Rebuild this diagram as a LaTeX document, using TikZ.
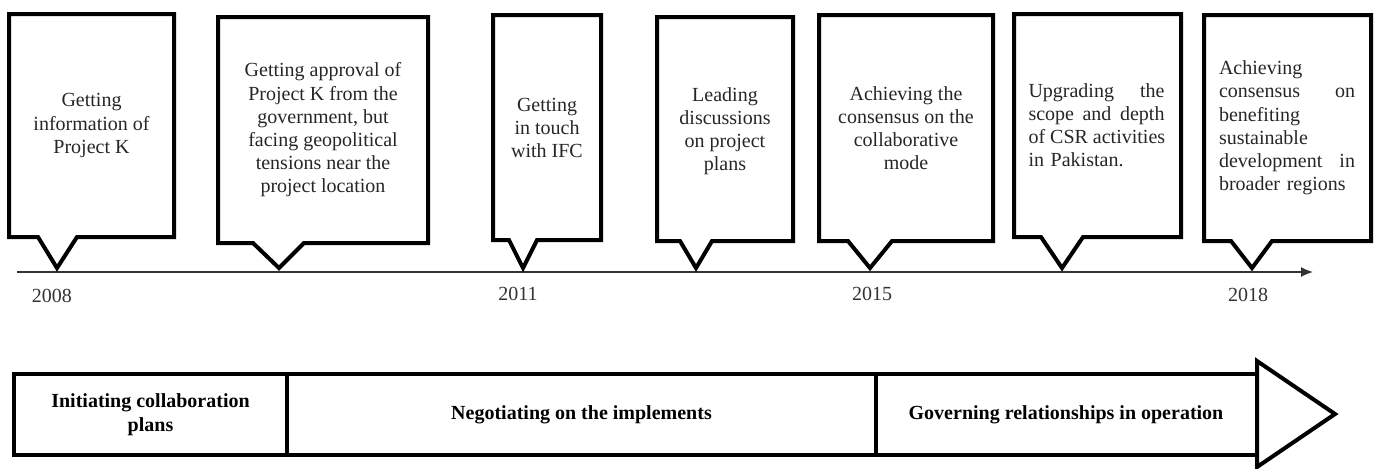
\documentclass[tikz,border=0pt]{standalone}
\usepackage{fontspec}
\setmainfont{Liberation Serif}
\usetikzlibrary{arrows.meta}
\newcommand{\spreadline}[1]{{\spaceskip=.25em plus 1fil\relax\makebox[68pt][s]{#1}}}

\begin{document}
\begin{tikzpicture}[x=0.5pt,y=-0.5pt,
  event/.style={line width=2pt,line join=miter},
  eventtext/.style={align=center,font=\fontsize{10}{11.6}\selectfont,text=black!85,inner sep=0pt},
  year/.style={font=\fontsize{10}{12}\selectfont,text=black!80,inner sep=0pt},
  phase/.style={align=center,font=\bfseries\fontsize{10}{12}\selectfont,inner sep=0pt}]
\useasboundingbox (0,0) rectangle (1379,468);
% timeline
\coordinate (start) at (17,272);
\coordinate (end) at (1313,272);
\draw[line width=0.7pt,black!80,-{Latex[length=6pt,width=5pt]}] (start) -- (end);
% callout boxes
\foreach \xl/\xr/\yt/\yb/\nl/\tp/\nr in {9/174/14/237/38/57/77,
    218/428/17/243/253/279/304, 493/601/15/240/509/523/537,
    657/793/17/241/680/696/712, 819/993/15/241/848/870/892,
    1014/1181/14/237/1041/1062/1083, 1204/1371/15/241/1231/1252/1272}
  \draw[event] (\xl,\yb) -- (\nl,\yb) -- (\tp,268) -- (\nr,\yb) -- (\xr,\yb)
    -- (\xr,\yt) -- (\xl,\yt) -- cycle;
\node[eventtext] (ev1) at (91.5,125.5) {Getting\\information of\\Project K};
\node[eventtext] (ev2) at (323,130) {Getting approval of\\Project K from the\\government, but\\facing geopolitical\\tensions near the\\project location};
\node[eventtext] (ev3) at (547,128) {Getting\\in touch\\with IFC};
\node[eventtext] (ev4) at (725,131) {Leading\\discussions\\on project\\plans};
\node[eventtext] (ev5) at (906,128) {Achieving the\\consensus on the\\collaborative\\mode};
\node[eventtext,align=left,text width=68pt] (ev6) at (1096.5,125) {\spreadline{Upgrading the}\\\spreadline{scope and depth}\\\spreadline{of CSR activities}\\in Pakistan.};
\node[eventtext,align=left,text width=68pt] (ev7) at (1287,128) {Achieving\\\spreadline{consensus on}\\benefiting\\sustainable\\\spreadline{development in}\\broader regions};
% years
\node[year] (y2008) at (52,296) {2008};
\node[year] (y2011) at (518,294) {2011};
\node[year] (y2015) at (872,294) {2015};
\node[year] (y2018) at (1248,295) {2018};
% phases
\draw[line width=2pt] (14,374) rectangle (1257,455);
\draw[line width=2pt,line join=miter] (1257,361) -- (1335,414) -- (1257,467) -- cycle;
\draw[line width=1.6pt] (287,374) -- (287,455);
\draw[line width=1.6pt] (876,374) -- (876,455);
\node[phase] (p1) at (150.5,414.5) {Initiating collaboration\\plans};
\node[phase] (p2) at (581.5,414.5) {Negotiating on the implements};
\node[phase] (p3) at (1066,414.5) {Governing relationships in operation};
\end{tikzpicture}
\end{document}
